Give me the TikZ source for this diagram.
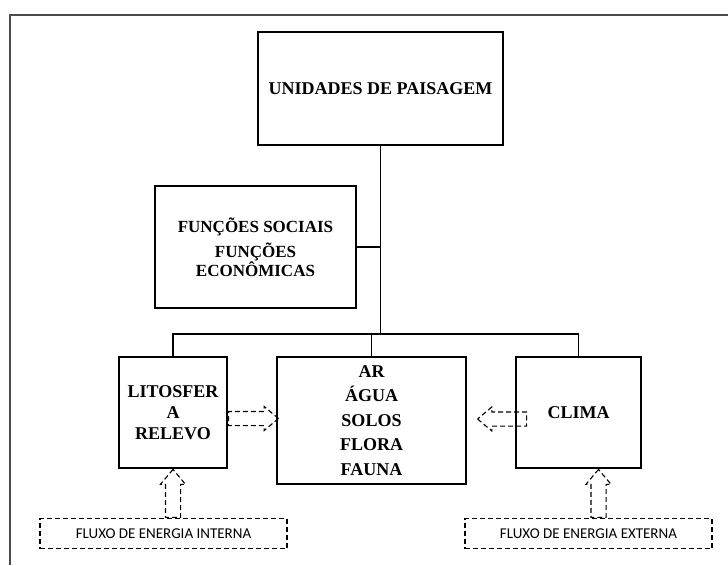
\documentclass[tikz,border=0pt]{standalone}
\usepackage{fontspec}
\setmainfont{Liberation Serif}
\newfontfamily\labfont{Carlito}
\usetikzlibrary{shapes.arrows}
\tikzset{
  box/.style={draw, line width=1.8pt, rectangle, align=center, inner sep=0pt,
    font=\bfseries\fontsize{18}{21}\selectfont},
  conn/.style={line width=1.2pt},
  dbox/.style={draw, dash pattern=on 5pt off 3pt, line width=1.1pt, rectangle,
    inner sep=0pt, font=\labfont\fontsize{15}{16}\selectfont},
  barrow/.style={draw, dash pattern=on 5pt off 3pt, line width=1.1pt, single arrow,
    single arrow head extend=5pt, single arrow tip angle=80, anchor=tail},
  harrow/.style={barrow, inner xsep=0pt, inner ysep=6.5pt},
  varrow/.style={barrow, inner xsep=7pt, inner ysep=0pt, shape border rotate=90},
  frame/.style={line width=1.5pt, draw=black!70}
}
\begin{document}
\begin{tikzpicture}[x=1pt, y=-1pt]
\useasboundingbox (0,0) rectangle (728,565);
\draw[frame] (10,565) -- (10,15) -- (728,15);

\node[box, minimum width=245pt, minimum height=113pt] (top) at (380.5,88.5) {UNIDADES DE PAISAGEM};
\node[box, minimum width=201pt, minimum height=122pt,
  font=\bfseries\fontsize{17}{17}\selectfont] (func) at (255.5,247) {FUNÇÕES SOCIAIS\\[6pt]FUNÇÕES\\ECONÔMICAS};
\node[box, minimum width=108pt, minimum height=111pt] (lit) at (173,412.5) {LITOSFER\\A\\RELEVO};
\node[box, minimum width=189pt, minimum height=127pt,
  font=\bfseries\fontsize{18}{24.5}\selectfont] (mid) at (371.5,420.5) {AR\\ÁGUA\\SOLOS\\FLORA\\FAUNA};
\node[box, minimum width=125pt, minimum height=111pt] (clima) at (578.5,412.5) {CLIMA};

\node[dbox, minimum width=247pt, minimum height=30pt] (fint) at (163.5,533.5) {FLUXO DE ENERGIA INTERNA};
\node[dbox, minimum width=247pt, minimum height=30pt] (fext) at (588.5,533.5) {FLUXO DE ENERGIA EXTERNA};

\coordinate (bus) at (380.5,334);
\draw[conn] (top.south) -- (bus);
\draw[conn] (func.east) -- (func.east -| bus);
\draw[conn] (lit.north) |- (bus) -| (clima.north);
\draw[conn] (mid.north) -- (mid.north |- bus);

\node[harrow, minimum height=50pt] (a1) at ([yshift=-6pt]lit.east) {};
\node[harrow, minimum height=49pt, shape border rotate=180] (a2) at ([xshift=12pt,yshift=-6.5pt]clima.west) {};
\node[varrow, minimum height=48pt] (a3) at (lit.south |- fint.north) {};
\node[varrow, minimum height=48pt] (a4) at ([xshift=20pt]clima.south |- fext.north) {};
\end{tikzpicture}
\end{document}
